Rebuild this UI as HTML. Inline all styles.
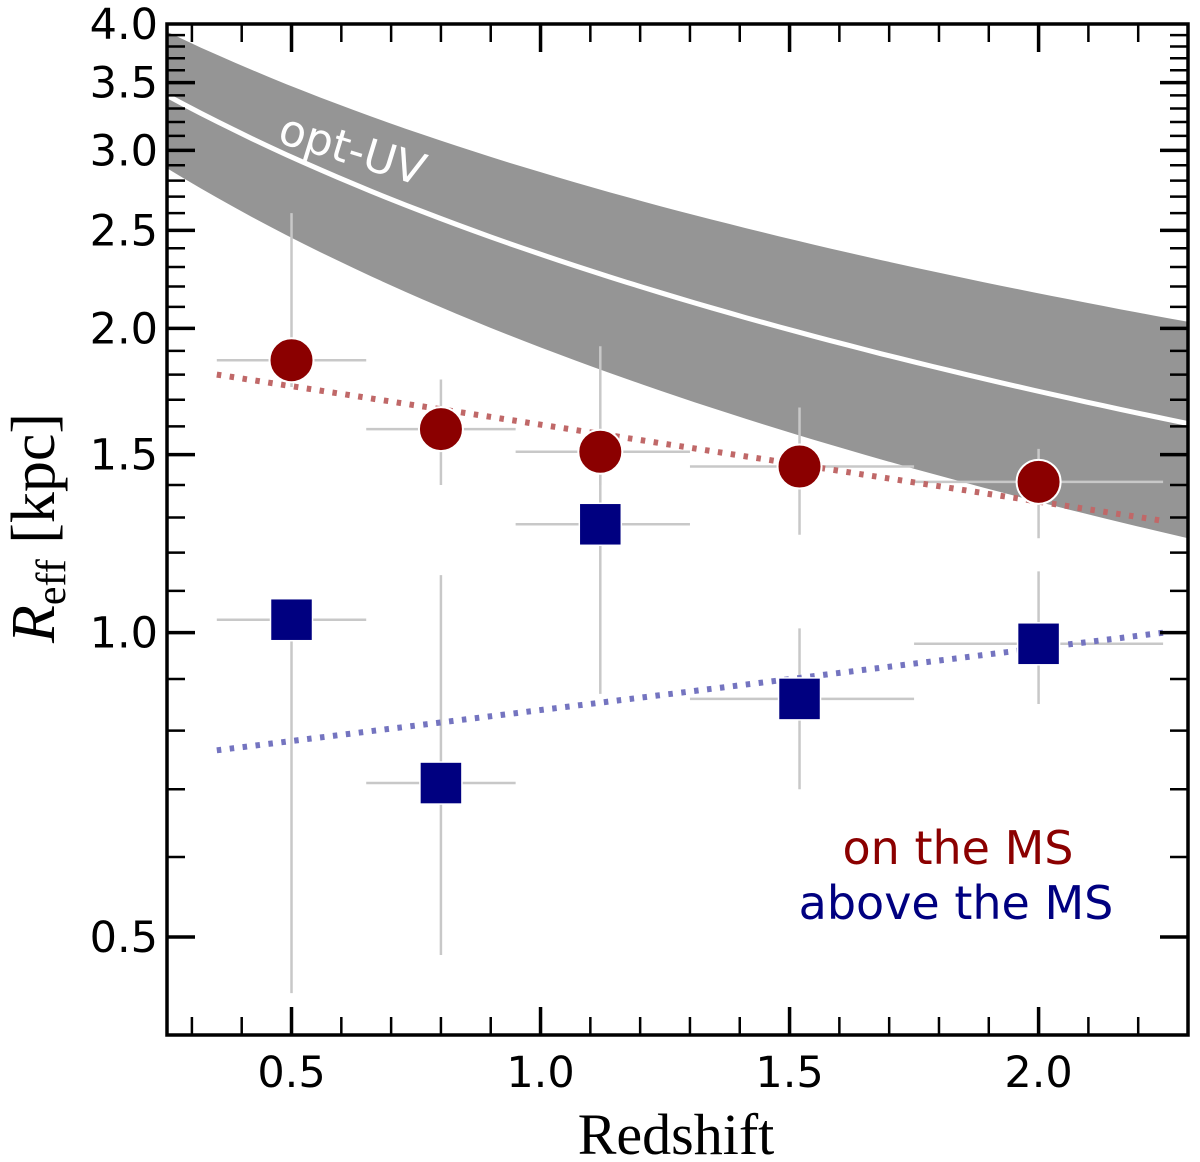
<!DOCTYPE html>
<html><head><meta charset="utf-8"><style>
html,body{margin:0;padding:0;background:#fff;}
svg{display:block;}
</style></head><body>
<svg id="chart" width="1200" height="1162" viewBox="0 0 1200 1162" xmlns="http://www.w3.org/2000/svg">
<g id="band-layer"></g>
<g id="err-layer"></g>
<g id="fit-layer"></g>
<g id="mark-layer"></g>
<g id="axis-layer"></g>
<text x="958" y="864" text-anchor="middle" font-family="DejaVu Sans, sans-serif" font-size="46" fill="#8b0000">on the MS</text>
<text x="956" y="919" text-anchor="middle" font-family="DejaVu Sans, sans-serif" font-size="46" fill="#000080">above the MS</text>
<text x="676" y="1154" text-anchor="middle" font-family="Liberation Serif, serif" font-size="58" fill="#000">Redshift</text>
<g transform="translate(54,528) rotate(-90)">
<text text-anchor="middle" font-family="Liberation Serif, serif" font-size="62" fill="#000"><tspan font-style="italic">R</tspan><tspan font-size="42" dy="11">eff</tspan><tspan dy="-11"> [kpc]</tspan></text>
</g>
</svg>
<script>
// data
const redshiftBins = [0.5, 0.8, 1.12, 1.52, 2.0];
const xErrLo = [0.35, 0.65, 0.95, 1.3, 1.75];
const xErrHi = [0.65, 0.95, 1.3, 1.75, 2.25];
const onMS = [1.86, 1.59, 1.51, 1.46, 1.41];
const onMSLo = [1.75, 1.40, 1.40, 1.25, 1.24];
const onMSHi = [2.60, 1.78, 1.92, 1.67, 1.52];
const aboveMS = [1.03, 0.71, 1.28, 0.86, 0.975];
const aboveMSLo = [0.44, 0.48, 0.87, 0.70, 0.85];
const aboveMSHi = [1.03, 1.14, 1.60, 1.01, 1.15];
const redFitEnds = [1.80, 1.29];
const blueFitEnds = [0.765, 1.0];
const fitZ = [0.35, 2.25];
const bandZ = [0.25, 2.3];
const bandMid = [3.40, 1.61];
const bandUpper = [3.93, 2.03];
const bandLower = [2.88, 1.24];
const xTicks = [0.5, 1.0, 1.5, 2.0];
const xTickLabels = ["0.5", "1.0", "1.5", "2.0"];
const yTicks = [0.5, 1.0, 1.5, 2.0, 2.5, 3.0, 3.5, 4.0];
const yTickLabels = ["0.5", "1.0", "1.5", "2.0", "2.5", "3.0", "3.5", "4.0"];

const L=167,R=1188,T=24,B=1035,XMIN=0.25,XMAX=2.3,YMIN=0.4,YMAX=4.0;
const X=v=>L+(v-XMIN)/(XMAX-XMIN)*(R-L);
const Y=v=>B-(Math.log10(v)-Math.log10(YMIN))/(Math.log10(YMAX)-Math.log10(YMIN))*(B-T);
const NS="http://www.w3.org/2000/svg";
function mk(tag,attrs,parent){const e=document.createElementNS(NS,tag);for(const k in attrs)e.setAttribute(k,attrs[k]);parent.appendChild(e);return e;}
function pl(ends,zs){const b=Math.log(ends[1]/ends[0])/Math.log((1+zs[1])/(1+zs[0]));return z=>ends[0]*Math.pow((1+z)/(1+zs[0]),b);}
function ll(ends,zs){const k=Math.log(ends[1]/ends[0])/(zs[1]-zs[0]);return z=>ends[0]*Math.exp(k*(z-zs[0]));}
function curve(f,z0,z1){let d="";for(let i=0;i<=60;i++){const z=z0+(z1-z0)*i/60;d+=(i?"L":"M")+X(z).toFixed(1)+","+Y(f(z)).toFixed(1);}return d;}

const band=document.getElementById('band-layer');
const fu=pl(bandUpper,bandZ),fl=pl(bandLower,bandZ),fm=pl(bandMid,bandZ);
let d=curve(fu,bandZ[0],bandZ[1]);
for(let i=60;i>=0;i--){const z=bandZ[0]+(bandZ[1]-bandZ[0])*i/60;d+="L"+X(z).toFixed(1)+","+Y(fl(z)).toFixed(1);}
const bp=mk('path',{d:d+"Z",fill:"#959595"},band);


const ml=mk('path',{d:curve(fm,bandZ[0],bandZ[1]),fill:"none",stroke:"#fff","stroke-width":5},band);


const lab=mk('text',{x:0,y:0,transform:"translate(348,164) rotate(17)","text-anchor":"middle","font-family":"DejaVu Sans, sans-serif","font-size":44,fill:"#fff"},band);
lab.textContent="opt-UV";



const err=document.getElementById('err-layer');
const ea={stroke:"#c8c8c8","stroke-width":2.5};
redshiftBins.forEach((z,i)=>{
  [[onMS,onMSLo,onMSHi],[aboveMS,aboveMSLo,aboveMSHi]].forEach(([v,lo,hi],s)=>{
    const h=mk('line',Object.assign({x1:X(xErrLo[i]),x2:X(xErrHi[i]),y1:Y(v[i]),y2:Y(v[i])},ea),err);
    
    
    const vl=mk('line',Object.assign({x1:X(z),x2:X(z),y1:Y(lo[i]),y2:Y(hi[i])},ea),err);
    
    
  });
});

const fit=document.getElementById('fit-layer');
const rf=mk('path',{d:curve(ll(redFitEnds,fitZ),fitZ[0],fitZ[1]),fill:"none",stroke:"#c06868","stroke-width":6,"stroke-dasharray":"4.5 8.5"},fit);


const bf=mk('path',{d:curve(ll(blueFitEnds,fitZ),fitZ[0],fitZ[1]),fill:"none",stroke:"#7474c0","stroke-width":6,"stroke-dasharray":"4.5 8.5"},fit);



const marks=document.getElementById('mark-layer');
redshiftBins.forEach((z,i)=>{
  const c=mk('circle',{cx:X(z),cy:Y(onMS[i]),r:22,fill:"#8b0000",stroke:"#fff","stroke-width":2},marks);
  
  
  const s=mk('rect',{x:X(z)-21,y:Y(aboveMS[i])-21,width:42,height:42,fill:"#000080",stroke:"#fff","stroke-width":1.5},marks);
  
  
});

const ax=document.getElementById('axis-layer');
const fr=mk('rect',{x:L,y:T,width:R-L,height:B-T,fill:"none",stroke:"#000","stroke-width":3.5},ax);


for(let k=3;k<=22;k++){const v=k/10;const major=xTicks.some(t=>Math.abs(t-v)<1e-6);const len=major?28:18;const tk={stroke:"#000","stroke-width":major?3.5:2.5};
  mk('line',Object.assign({x1:X(v),x2:X(v),y1:B,y2:B-len},tk),ax);
  mk('line',Object.assign({x1:X(v),x2:X(v),y1:T,y2:T+len},tk),ax);}
for(let k=5;k<=39;k++){const v=k/10;const major=yTicks.some(t=>Math.abs(t-v)<1e-6);const len=major?28:18;const tk={stroke:"#000","stroke-width":major?3.5:2.5};
  mk('line',Object.assign({x1:L,x2:L+len,y1:Y(v),y2:Y(v)},tk),ax);
  mk('line',Object.assign({x1:R,x2:R-len,y1:Y(v),y2:Y(v)},tk),ax);}
xTicks.forEach((v,i)=>{const t=mk('text',{x:X(v),y:1087,"text-anchor":"middle","font-family":"DejaVu Sans, sans-serif","font-size":43,fill:"#000"},ax);t.textContent=xTickLabels[i];
  
  });
yTicks.forEach((v,i)=>{const t=mk('text',{x:158,y:Y(v)+15,"text-anchor":"end","font-family":"DejaVu Sans, sans-serif","font-size":43,fill:"#000"},ax);t.textContent=yTickLabels[i];
  
  });
</script>
</body></html>
